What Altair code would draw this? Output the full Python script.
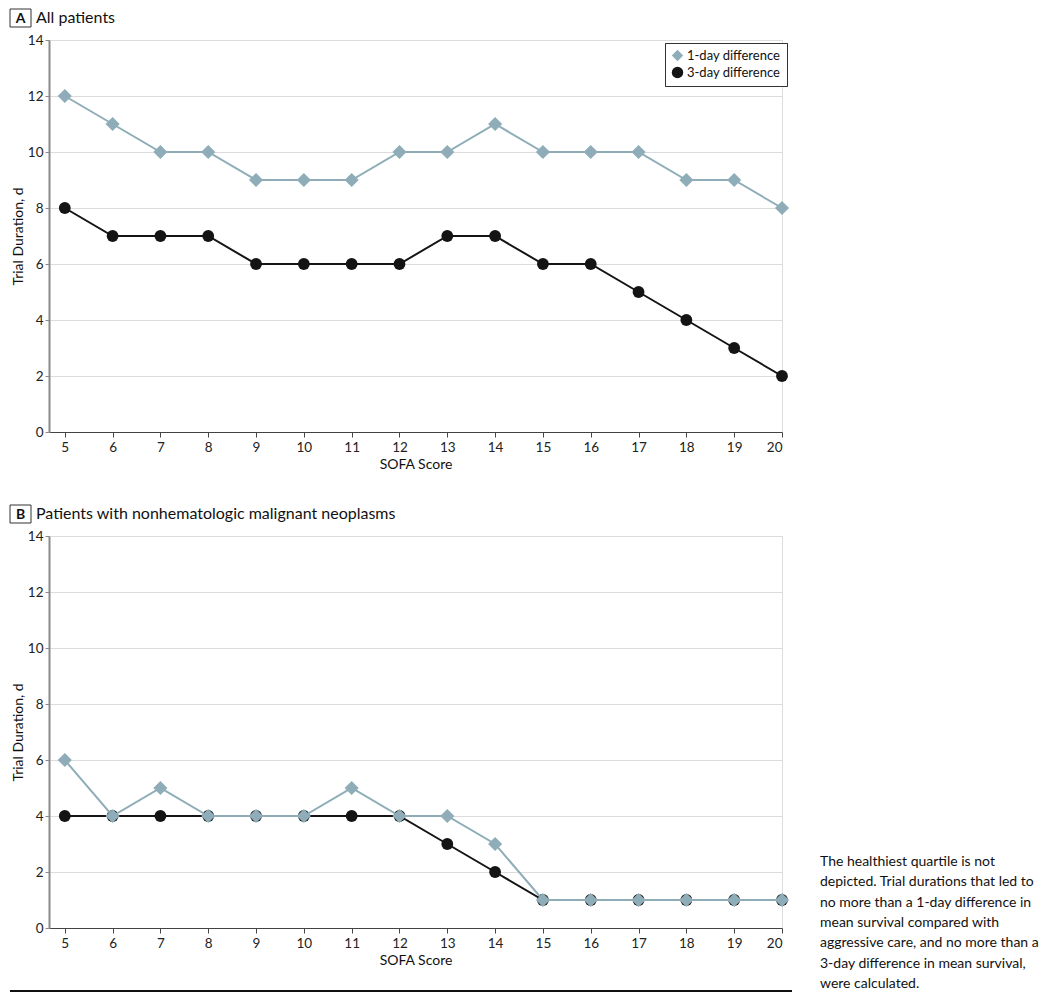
import altair as alt
import pandas as pd

sofa = list(range(5, 21))
a_1day = [12, 11, 10, 10, 9, 9, 9, 10, 10, 11, 10, 10, 10, 9, 9, 8]
a_3day = [8, 7, 7, 7, 6, 6, 6, 6, 7, 7, 6, 6, 5, 4, 3, 2]
b_1day = [6, 4, 5, 4, 4, 4, 5, 4, 4, 3, 1, 1, 1, 1, 1, 1]
b_3day = [4, 4, 4, 4, 4, 4, 4, 4, 3, 2, 1, 1, 1, 1, 1, 1]
series_names = ["1-day difference", "3-day difference"]
y_ticks = [0, 2, 4, 6, 8, 10, 12, 14]
panel_letters = ["A", "B"]
panel_titles = ["All patients", "Patients with nonhematologic malignant neoplasms"]
note_lines = [
    "The healthiest quartile is not",
    "depicted. Trial durations that led to",
    "no more than a 1-day difference in",
    "mean survival compared with",
    "aggressive care, and no more than a",
    "3-day difference in mean survival,",
    "were calculated.",
]

LIGHT = "#8fadb8"
DARK = "#141414"
FONT = "Lato"
W, H = 733, 392


def make_df(v1, v3):
    rows = []
    for s, v in zip(sofa, v3):
        rows.append({"sofa": s, "val": v, "series": series_names[1]})
    for s, v in zip(sofa, v1):
        rows.append({"sofa": s, "val": v, "series": series_names[0]})
    return pd.DataFrame(rows)


xscale = alt.Scale(domain=[4.67, 20], nice=False, zero=False)
yscale = alt.Scale(domain=[0, 14], nice=False)
color_scale = alt.Scale(domain=series_names, range=[LIGHT, DARK])
shape_scale = alt.Scale(domain=series_names, range=["diamond", "circle"])

xaxis = alt.Axis(values=sofa, title="SOFA Score", grid=False, domainColor="#444",
                 tickColor="#444", tickSize=5, labelFontSize=13.5, labelColor="#222",
                 titleFontSize=14, titleFontWeight="normal", titleColor="#111",
                 labelPadding=3, titlePadding=4, labelFont=FONT, titleFont=FONT)
yaxis = alt.Axis(values=y_ticks, title="Trial Duration, d", grid=True, gridColor="#dcdcdc",
                 domainColor="#8a8a8a", domainWidth=2, tickColor="#8a8a8a", tickSize=4,
                 labelFontSize=13.5, labelColor="#222", titleFontSize=14,
                 titleFontWeight="normal", titleColor="#111", labelPadding=2,
                 titlePadding=2, labelFont=FONT, titleFont=FONT)


def panel(v1, v3, letter, title, show_legend, extra=None):
    df = make_df(v1, v3)
    base = alt.Chart(df)
    layers = []
    for name, col in [(series_names[1], DARK), (series_names[0], LIGHT)]:
        sub = base.transform_filter(alt.datum.series == name)
        line = sub.mark_line(strokeWidth=2, color=col).encode(
            x=alt.X("sofa:Q", scale=xscale, axis=xaxis),
            y=alt.Y("val:Q", scale=yscale, axis=yaxis),
        )
        layers.append(line)
        legend = None
        if show_legend:
            legend = alt.Legend(title=None, orient="none", legendX=616, legendY=3,
                                fillColor="white", strokeColor="#333", padding=6,
                                labelFontSize=13, labelFont=FONT, labelColor="#111",
                                symbolSize=130, rowPadding=3, symbolOpacity=1,
                                symbolStrokeWidth=0, labelOffset=3)
        pts = sub.mark_point(filled=True, opacity=1, size=200 if name == series_names[0] else 140).encode(
            x="sofa:Q",
            y="val:Q",
            color=alt.Color("series:N", scale=color_scale, legend=legend),
            shape=alt.Shape("series:N", scale=shape_scale, legend=legend),
        )
        layers.append(pts)
    hdr = pd.DataFrame({"letter": [letter], "title": [title]})
    hbase = alt.Chart(hdr)
    box = hbase.mark_rect(fill="white", stroke="#333", strokeWidth=1).encode(
        x=alt.value(-39), x2=alt.value(-18), y=alt.value(-31), y2=alt.value(-13))
    let = hbase.mark_text(font=FONT, fontSize=14, fontWeight="bold", color="#111",
                          align="center", baseline="middle").encode(
        x=alt.value(-28.5), y=alt.value(-21.5), text="letter:N")
    ttl = hbase.mark_text(font=FONT, fontSize=16, color="#111", align="left",
                          baseline="middle").encode(
        x=alt.value(-13), y=alt.value(-22.5), text="title:N")
    layers += [box, let, ttl]
    if extra:
        layers += extra
    return alt.layer(*layers).properties(width=W, height=H).resolve_scale(
        color="independent", shape="independent")


note_df = pd.DataFrame({"t": ["\n".join(note_lines)]})
note = alt.Chart(note_df).mark_text(font=FONT, fontSize=14, color="#111", align="left",
                                    baseline="top", lineBreak="\n", lineHeight=20.3).encode(
    x=alt.value(771), y=alt.value(319), text="t:N")
rule = alt.Chart(note_df).mark_rule(color="#111", strokeWidth=2).encode(
    x=alt.value(-39), x2=alt.value(743), y=alt.value(455))

pa = panel(a_1day, a_3day, panel_letters[0], panel_titles[0], True)
pb = panel(b_1day, b_3day, panel_letters[1], panel_titles[1], False, [note, rule])

chart = alt.vconcat(pa, pb, spacing=104, bounds="flush").resolve_scale(
    color="independent", shape="independent").properties(padding=0).configure_view(
    stroke=None).configure(font=FONT)

chart.save("out.html", embed_options={"renderer": "svg", "actions": False})
